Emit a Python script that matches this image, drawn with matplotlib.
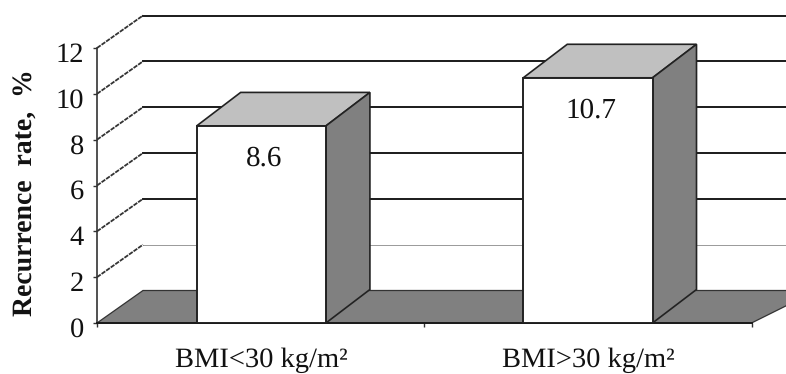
import matplotlib
matplotlib.use('Agg')
import matplotlib.pyplot as plt
from matplotlib.patches import Polygon
from matplotlib.transforms import ScaledTranslation

categories = ['BMI<30 kg/m\u00b2', 'BMI>30 kg/m\u00b2']
rates = [8.6, 10.7]
y_ticks = [0, 2, 4, 6, 8, 10, 12]

plt.rcParams['font.family'] = ['Liberation Serif', 'DejaVu Serif']
plt.rcParams['text.hinting'] = 'no_hinting'

W, H = 786, 374
LEFT, RIGHT, BOTTOM, TOP = 97, 751.5, 323, 48
DARK = '#1a1a1a'
GREY = '#808080'
LIGHT = '#c0c0c0'

fig = plt.figure(figsize=(W / 100, H / 100), dpi=100)
ax = fig.add_axes([LEFT / W, 1 - BOTTOM / H, (RIGHT - LEFT) / W, (BOTTOM - TOP) / H])
ax.set_xlim(0, 2)
ax.set_ylim(0, 12)

# depth of the fake 3d box, in data units
dx = 46 / ((RIGHT - LEFT) / 2)
dy = 32.5 / ((BOTTOM - TOP) / 12)
bar_w = 0.395
bar_dx = 44 / ((RIGHT - LEFT) / 2)
bar_dy = 33.5 / ((BOTTOM - TOP) / 12)

for spine in ['top', 'right']:
    ax.spines[spine].set_visible(False)
ax.spines['left'].set_linewidth(1.2)
ax.spines['left'].set_color('#333333')
ax.spines['bottom'].set_linewidth(1.4)
ax.spines['bottom'].set_color(DARK)

# back wall gridlines and their slanted ends
for t in y_ticks[1:]:
    thin = t == 2
    ax.plot([dx, 2.2], [t + dy, t + dy], color='#999999' if thin else DARK,
            lw=0.7 if thin else 1.4, clip_on=False, zorder=1)
    ax.plot([0, dx], [t, t + dy], color='#333333', lw=1.3, ls=(0, (2.5, 0.6)),
            clip_on=False, zorder=1)

# floor
floor = Polygon([(0, 0), (dx, dy), (2.2, dy), (2, 0)], closed=True, facecolor=GREY,
                edgecolor='#333333', lw=0.9, clip_on=False, zorder=2)
ax.add_patch(floor)

# bars with top and side faces
centers = [0.502, 1.5]
for c, v in zip(centers, rates):
    x0, x1 = c - bar_w / 2, c + bar_w / 2
    top = Polygon([(x0, v), (x0 + bar_dx, v + bar_dy), (x1 + bar_dx, v + bar_dy), (x1, v)],
                  closed=True, facecolor=LIGHT, edgecolor='#222222', lw=1.2,
                  clip_on=False, zorder=3)
    side = Polygon([(x1, 0), (x1 + bar_dx, bar_dy), (x1 + bar_dx, v + bar_dy), (x1, v)],
                   closed=True, facecolor=GREY, edgecolor='#222222', lw=1.2,
                   clip_on=False, zorder=3)
    ax.add_patch(top)
    ax.add_patch(side)
    ax.bar(c, v, width=bar_w, facecolor='white', edgecolor='#222222', lw=1.4, zorder=4)
    ax.annotate(f'{v}', (c, v), xytext=(2, -23.5), textcoords='offset points',
                ha='center', va='center', fontsize=21, color='#111111', zorder=5)

ax.set_yticks(y_ticks)
ax.set_xticks([0, 1, 2])
ax.set_xticklabels([])
ax.set_xticks(centers, minor=True)
ax.set_xticklabels(categories, minor=True, fontsize=20.5, color='#111111')
ax.tick_params(axis='x', which='major', length=3, width=1, color='#333333')
ax.tick_params(axis='x', which='minor', length=0, pad=18)
ax.tick_params(axis='y', length=3, width=1, color='#333333', labelsize=20.5,
               labelcolor='#111111', pad=6.5)

# tick numbers sit a little below their ticks in the original
shift = ScaledTranslation(0, -4 / 100, fig.dpi_scale_trans)
for lab in ax.get_yticklabels():
    lab.set_transform(lab.get_transform() + shift)

fig.text(25 / W, 1 - 193 / H, 'Recurrence  rate,  %', rotation=90, ha='center', va='center',
         fontsize=20, fontweight='bold', color='#111111')

fig.savefig('out.png', dpi=100)
